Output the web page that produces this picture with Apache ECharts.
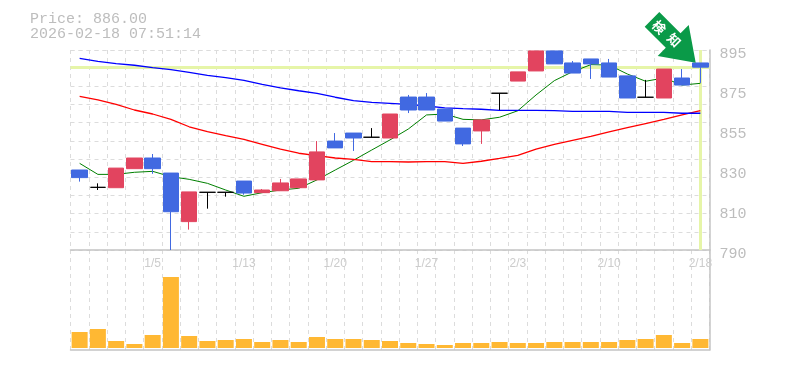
<!DOCTYPE html>
<html>
<head>
<meta charset="utf-8">
<title>Price chart</title>
<style>
  html, body { margin: 0; padding: 0; background: #fff; }
  #main { width: 785px; height: 370px; }
</style>
<script src="https://cdn.jsdelivr.net/npm/echarts@6/dist/echarts.min.js"></script>
</head>
<body>
<div id="main"></div>
<script>
const dates = ['12/25','12/26','12/29','12/30','1/5','1/6','1/7','1/8','1/9','1/13','1/14','1/15','1/16','1/19','1/20','1/21','1/22','1/23','1/26','1/27','1/28','1/29','1/30','2/2','2/3','2/4','2/5','2/6','2/9','2/10','2/12','2/13','2/16','2/17','2/18'];
const dateLabels = ['1/5','1/13','1/20','1/27','2/3','2/10','2/18'];
const priceLabels = ['790','810','830','855','875','895'];

// open, close, low, high
const candles = [
  [832,828,825.9,832],[822.9,822.9,821.5,825],[822.7,833,822.7,833],[832.7,838.3,832.7,838.3],[838.3,832.7,830,840.4],
  [830.4,810.1,790,830.4],[804.9,820.5,800.7,820.5],[820.3,820.3,811.7,820.3],[820.3,820.3,818,820.3],[826.2,819.9,819,826.2],
  [820.1,821.5,820.1,822],[821.1,825.2,821.1,827.3],[822.7,827.3,822.7,827.3],[826.8,841.5,826.8,847.2],[847.2,843.6,843.6,851.4],
  [851.4,848.8,842,851.4],[849.2,849.2,849.2,854],[848.8,861.4,848.8,861.4],[870.3,863.5,861.9,871.4],[870.3,863.5,863.5,872.4],
  [864,857.7,857.7,864],[854,845.7,844.6,854],[852.5,858.3,845.7,858.3],[872.3,872.3,863.5,872.3],[878.7,883.5,878.7,883.5],
  [884,894.5,884,894.5],[894.5,887.7,887.7,894.5],[888.2,882.9,882.9,889.2],[890.3,887.7,879.8,890.3],[888.2,880.8,880.8,890.3],
  [881.4,869.8,869.8,881.4],[870.2,870.2,870.2,879.3],[869.8,885,869.8,885],[880.3,876.6,876.6,885],[888.2,886,877.7,888.2]
];
const maShort = [835.5,829.7,829.7,830.8,831.3,828.5,827.1,825,821.5,818.2,820.1,821.5,822.4,826.8,832,837.1,842.5,847.8,853.5,860.9,861.4,858.6,858.3,859.7,863.1,871.4,878.9,883.6,887.3,887.1,882.4,878.6,880.3,876.6,877.5];
const maMid = [870.7,868.8,866.5,863.5,861.4,858.6,854.7,852.1,850,848.1,845.5,842.9,840.8,839.6,838.3,837.6,836.4,836.4,836.2,836.4,836.4,835.5,836.6,838.1,839.7,843,845.4,847.5,849.6,852,854.2,856.4,858.6,861,863.2];
const maLong = [890.6,889,887.9,887,885.7,884.7,883.3,881.7,880.5,879.1,876.9,875.1,873.6,872.2,870.2,868.4,867.5,867,866.4,865.6,864.6,864.2,863.9,863.3,863.3,863.3,863.2,862.8,862.8,862.8,862.3,862.3,862.3,861.8,861.8];
const volumes = [16,19,7,4,13,71,12,7,8,9,6,8,6,11,9,9,8,7,5,4,3,5,5,6,5,5,6,6,6,6,8,9,13,5,9];

const lastPrice = 886;
const gridDash = { color: '#dcdcdc', type: [4, 4], width: 1 };

function maSeries(name, data, color, width) {
  return {
    name: name, type: 'line', data: data, xAxisIndex: 0, yAxisIndex: 0,
    symbol: 'none', silent: true, z: 3,
    lineStyle: { color: color, width: width }
  };
}

function badgeChar(ch, x, y) {
  return {
    type: 'text', z: 11, silent: true, x: x, y: y, rotation: -Math.PI / 4,
    style: { text: ch, fill: '#fff', font: 'bold 13px "Noto Sans CJK JP"', align: 'center', verticalAlign: 'middle' }
  };
}

const chart = echarts.init(document.getElementById('main'), null, { renderer: 'canvas' });
chart.setOption({
  animation: false,
  backgroundColor: '#fff',
  title: {
    text: 'Price: ' + lastPrice.toFixed(2) + '\n2026-02-18 07:51:14',
    left: 25, top: 7,
    textStyle: { fontFamily: 'Liberation Mono', fontSize: 15, fontWeight: 'normal', color: '#bdbdbd', lineHeight: 15 }
  },
  grid: [
    { left: 70.5, top: 50, width: 639, height: 200 },
    { left: 70.5, top: 250, width: 639, height: 100 }
  ],
  xAxis: [
    {
      type: 'category', data: dates, gridIndex: 0,
      axisLine: { onZero: false, lineStyle: { color: '#c4c4c4', width: 1.5 } },
      axisTick: { show: false },
      axisLabel: {
        color: '#cccccc', fontFamily: 'Liberation Sans', fontSize: 12, margin: 8, hideOverlap: false,
        interval: (i, v) => dateLabels.includes(v)
      },
      splitLine: { show: true, interval: 0, lineStyle: gridDash }
    },
    {
      type: 'category', data: dates, gridIndex: 1,
      axisLine: { onZero: false, lineStyle: { color: '#c4c4c4', width: 1.5 } },
      axisTick: { show: false },
      axisLabel: { show: false },
      splitLine: { show: true, interval: 0, lineStyle: gridDash }
    }
  ],
  yAxis: [
    {
      type: 'value', gridIndex: 0, min: 790, max: 895, interval: 105 / 11,
      axisLine: { show: false }, axisTick: { show: false }, axisLabel: { show: false },
      splitLine: { show: true, lineStyle: gridDash }
    },
    {
      type: 'value', gridIndex: 0, min: 790, max: 895, interval: 21, position: 'right',
      axisLine: { show: true, lineStyle: { color: '#c4c4c4', width: 1.5 } },
      axisTick: { show: false },
      splitLine: { show: false },
      axisLabel: {
        color: '#bdbdbd', fontFamily: 'Liberation Mono', fontSize: 15, margin: 10,
        verticalAlign: 'top', lineHeight: 8,
        formatter: (v, i) => priceLabels[i]
      }
    },
    {
      type: 'value', gridIndex: 1, min: -2, max: 98, position: 'right',
      axisLine: { show: true, lineStyle: { color: '#c4c4c4', width: 1.5 } },
      axisTick: { show: false }, axisLabel: { show: false }, splitLine: { show: false }
    }
  ],
  series: [
    {
      name: 'Price', type: 'candlestick', data: candles, xAxisIndex: 0, yAxisIndex: 0,
      barWidth: 16, silent: true, z: 4,
      itemStyle: {
        color: '#e2445f', color0: '#4169e1',
        borderColor: '#e2445f', borderColor0: '#4169e1', borderColorDoji: '#000', borderWidth: 1
      },
      markLine: {
        silent: true, symbol: 'none', label: { show: false }, animation: false, z: 1,
        lineStyle: { color: '#e6f5a8', type: 'solid', width: 3 },
        data: [{ yAxis: lastPrice }, { xAxis: dates[dates.length - 1] }]
      }
    },
    maSeries('MA short', maShort, '#008000', 1),
    maSeries('MA mid', maMid, '#ff0000', 1.3),
    maSeries('MA long', maLong, '#0000ff', 1.3),
    {
      name: 'Volume', type: 'bar', data: volumes, xAxisIndex: 1, yAxisIndex: 2,
      barWidth: 16, silent: true,
      itemStyle: { color: '#ffb833' }
    }
  ],
  graphic: [
    {
      type: 'polygon', z: 10, silent: true,
      shape: { points: [[659.3,12],[644.7,26.7],[665.8,47.8],[657.7,56],[695.7,62.7],[688.7,25],[680.5,33.2]] },
      style: { fill: '#0a9a48' }
    },
    badgeChar('検', 659, 27),
    badgeChar('知', 674, 40)
  ]
});
</script>
</body>
</html>
